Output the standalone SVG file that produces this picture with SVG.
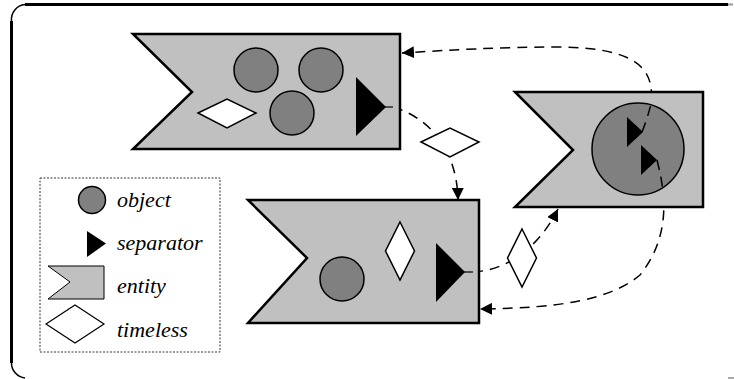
<svg xmlns="http://www.w3.org/2000/svg" width="734" height="379" viewBox="0 0 734 379">
<style>
.ent{fill:#c0c0c0;stroke:#000;stroke-width:2.5;stroke-linejoin:miter}
.obj{fill:#808080;stroke:#000;stroke-width:1.5}
.sep{fill:#000;stroke:none}
.tl{fill:#fff;stroke:#000;stroke-width:1.5}
.con{fill:none;stroke:#000;stroke-width:1.5;stroke-dasharray:10 7}
.lbl{font-family:"Liberation Serif","Times New Roman",serif;font-style:italic;font-size:22px;fill:#000}
</style>
<defs>
<marker id="arr" viewBox="0 0 12 12" refX="12" refY="6" markerWidth="12" markerHeight="12" markerUnits="userSpaceOnUse" orient="auto">
<path d="M0,0 L12,6 L0,12 Z" fill="#000"/>
</marker>
</defs>
<rect width="734" height="379" fill="#fff"/>
<g id="frame">
<path d="M25,4.5 L728,4.5" stroke="#000" stroke-width="3" fill="none"/>
<path d="M11.5,21 L11.5,363" stroke="#000" stroke-width="3" fill="none"/>
<path d="M11.5,21 A15,15 0 0 1 25,4.5" stroke="#000" stroke-width="1.5" fill="none"/>
<path d="M11.5,363 A15,15 0 0 0 25,378" stroke="#000" stroke-width="1.5" fill="none"/>
<path d="M728,4.5 L733,4.5" stroke="#999" stroke-width="2" fill="none"/>
<path d="M728,378 L734,378" stroke="#555" stroke-width="1" fill="none"/>
</g>
<g id="connectors">
<path class="con" d="M393,107 C430,118 457,150 458,200" marker-end="url(#arr)"/>
<path class="con" d="M642,132 C668,70 640,48 560,47 C500,47 450,50 402,53" marker-end="url(#arr)"/>
<path class="con" d="M657,160 C668,200 668,240 640,275 C610,300 560,308 480,309" marker-end="url(#arr)"/>
<path class="con" d="M473,272 C510,270 540,245 558,209" marker-end="url(#arr)"/>
</g>
<g id="entity1">
<polygon class="ent" points="133,34 400,34 400,149 133,149 192,92"/>
<circle class="obj" cx="256" cy="70" r="22"/>
<circle class="obj" cx="321" cy="70" r="22"/>
<circle class="obj" cx="292" cy="113" r="22"/>
<polygon class="tl" points="198,113 227,99 256,113 227,128"/>
<polygon class="sep" points="356,77 386,107 356,136"/>
<path d="M385,107 L393,107" stroke="#000" stroke-width="1.2"/>
</g>
<g id="entity3">
<polygon class="ent" points="515,92 703,92 703,207 515,207 573,150"/>
<circle class="obj" cx="638" cy="149" r="46"/>
</g>
<g id="connectors-inner">
<path class="con" d="M642,132 C646,122 649,112 651,104"/>
<path class="con" d="M657,160 C660,172 662,182 663,192"/>
</g>
<g id="entity3-seps">
<polygon class="sep" points="627,117 643,132 627,147"/>
<polygon class="sep" points="641,145 657,160 641,175"/>
</g>
<g id="entity2">
<polygon class="ent" points="248,200 479,200 479,323 248,323 307,258"/>
<circle class="obj" cx="342" cy="279" r="22"/>
<polygon class="tl" points="400,222 414.5,251 400,280 385.5,251"/>
<polygon class="sep" points="436,243 465,272 436,302"/>
<path d="M464,272 L473,272" stroke="#000" stroke-width="1.2"/>
</g>
<g id="timeless1">
<polygon class="tl" points="421,142 450,128 479,142 450,157"/>
</g>
<g id="timeless2">
<polygon class="tl" points="522,229 536.5,258 522,287 507.5,258"/>
</g>
<g id="legend">
<rect x="40" y="178" width="180" height="174" fill="none" stroke="#000" stroke-width="0.8" stroke-dasharray="2 1.5"/>
<circle class="obj" cx="92" cy="200" r="13.5"/>
<text class="lbl" x="117" y="207">object</text>
<polygon class="sep" points="87,231 106,243.5 87,257"/>
<text class="lbl" x="117" y="250">separator</text>
<polygon points="48,266 104,266 104,299 48,299 70,282" fill="#c0c0c0" stroke="#000" stroke-width="1"/>
<text class="lbl" x="117" y="293">entity</text>
<polygon points="46,324 75,305 104,324 75,343" fill="#fff" stroke="#000" stroke-width="1.2"/>
<text class="lbl" x="117" y="337">timeless</text>
</g>
</svg>
